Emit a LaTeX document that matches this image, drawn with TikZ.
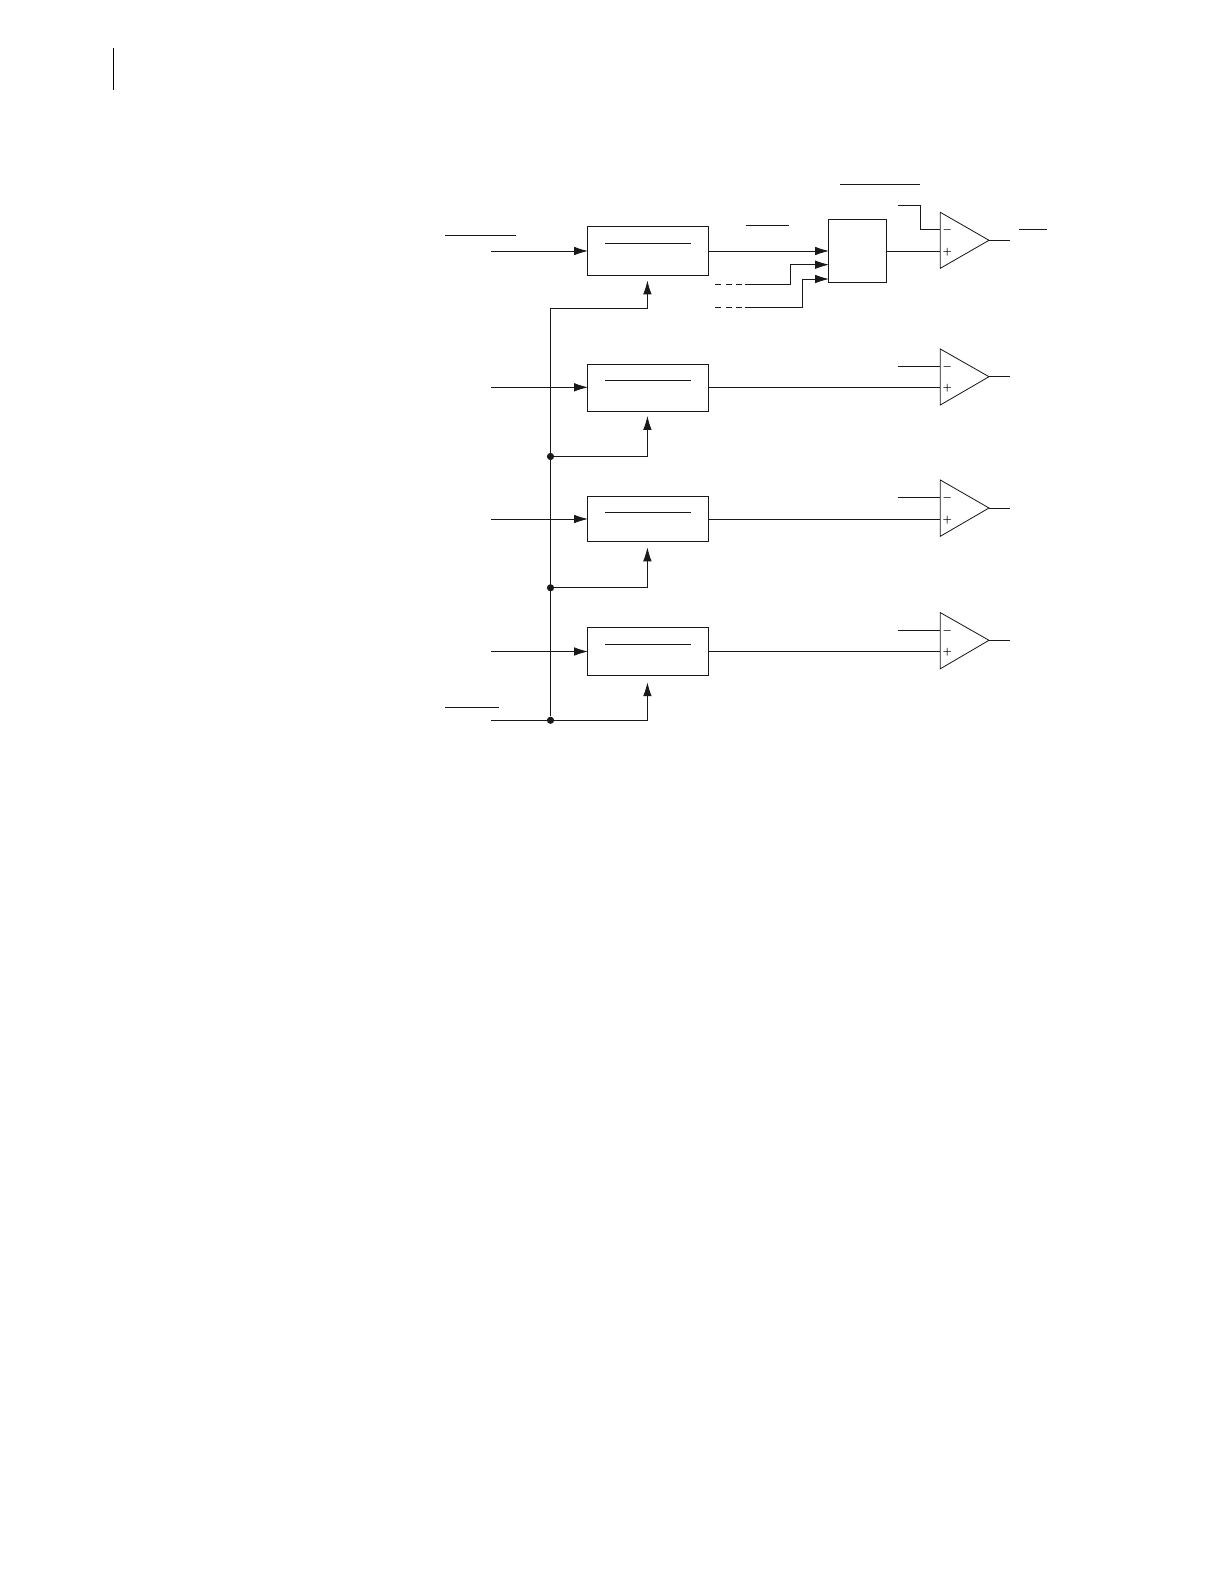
\documentclass[tikz,border=0pt]{standalone}
\usetikzlibrary{arrows.meta}
\tikzset{
  x=0.75pt,y=-0.75pt,
  wire/.style={line width=0.62pt,draw=black!90},
  flow/.style={wire,-{Latex[length=10.4pt,width=6.4pt]}},
  blockbox/.style={draw=black!90,line width=0.62pt,rectangle,inner sep=0pt,outer sep=0pt,minimum width=90.75pt},
  muxbox/.style={draw=black!90,line width=0.62pt,rectangle,inner sep=0pt,outer sep=0pt,minimum width=43.5pt,minimum height=47.25pt},
  amp/.style={wire,line join=miter},
  sign/.style={inner sep=0pt,font=\fontsize{7.5}{7.5}\selectfont\boldmath},
  joint/.style={circle,fill=black!90,inner sep=0pt,minimum size=5.4pt},
  rule/.style={line width=0.55pt,draw=black!90},
  dashpart/.style={wire,dash pattern=on 4.5pt off 3.6pt}
}
% #1 name, #2 top y, #3 tip y, #4 bottom y, #5 minus y, #6 plus y
\newcommand{\opampshape}[6]{
  \coordinate (#1t) at (940.3,#2);
  \coordinate (#1b) at (940.3,#4);
  \coordinate (#1o) at (989,#3);
  \coordinate (#1m) at (940.3,#5);
  \coordinate (#1p) at (940.3,#6);
  \coordinate (#1e) at (1010,#3);
  \draw[amp] (#1t) -- (#1o) -- (#1b) -- cycle;
  \draw[wire] (#1o) -- (#1e);
  \node[sign] (#1ms) at (947.3,#5+0.8) {$-$};
  \node[sign] (#1ps) at (947.3,#6+0.8) {$+$};
}
\begin{document}
\begin{tikzpicture}
\useasboundingbox[fill=white] (0,0) rectangle (1222,1584);

% margin rule
\coordinate (ma) at (113.7,48);
\coordinate (mb) at (113.7,90);
\draw[line width=0.75pt,black] (ma) -- (mb);

% blocks
\node[blockbox,minimum height=36.75pt] (b1) at (647.8,250.8) {};
\node[blockbox,minimum height=35.25pt] (b2) at (647.8,388) {};
\node[blockbox,minimum height=33.75pt] (b3) at (647.8,518.7) {};
\node[blockbox,minimum height=36pt] (b4) at (647.8,651.3) {};
\node[muxbox] (mux) at (857.3,250.8) {};

% lines inside blocks
\foreach \n/\y in {1/243.3,2/380,3/512,4/644.3}{
  \coordinate (il\n a) at (605,\y);
  \coordinate (il\n b) at (690.7,\y);
  \draw[rule] (il\n a) -- (il\n b);
}

% op amps
\opampshape{a}{212.3}{240.3}{268.3}{229.3}{251}
\opampshape{c}{349}{376.7}{405}{366.3}{387.3}
\opampshape{d}{480}{508}{536.3}{497}{519}
\opampshape{e}{612.6}{640.3}{668.8}{630}{651.5}

% inputs
\foreach \n/\y in {1/251,2/387.3,3/519,4/651.5}{
  \coordinate (in\n) at (491,\y);
  \coordinate (to\n) at (588,\y);
  \draw[flow] (in\n) -- (to\n);
}

% bus
\coordinate (bustop) at (550.5,308.3);
\coordinate (clk) at (491,720.3);
\node[joint] (j2) at (550.5,456.5) {};
\node[joint] (j3) at (550.5,587.8) {};
\node[joint] (j4) at (550.5,720.3) {};
\coordinate (up1) at (647.4,280.5);
\coordinate (up2) at (647.4,416);
\coordinate (up3) at (647.4,547.4);
\coordinate (up4) at (647.4,682.3);
\draw[wire] (bustop) -- (j4);
\draw[wire] (clk) -- (j4);
\draw[flow] (bustop) -| (up1);
\draw[flow] (j2) -| (up2);
\draw[flow] (j3) -| (up3);
\draw[flow] (j4) -| (up4);

% block 1 to mux
\coordinate (mi1) at (829,251);
\coordinate (mi2) at (829,264.7);
\coordinate (mi3) at (829,279);
\coordinate (b1o) at (708.3,251);
\draw[flow] (b1o) -- (mi1);
\coordinate (da) at (714.8,284.3);
\coordinate (db) at (745,284.3);
\coordinate (dc) at (714.8,307);
\coordinate (dd) at (745,307);
\coordinate (ka) at (790.3,264.7);
\coordinate (kb) at (802.3,279);
\draw[dashpart] (da) -- (db);
\draw[dashpart] (dc) -- (dd);
\draw[wire] (db) -| (ka);
\draw[flow] (ka) -- (mi2);
\draw[wire] (dd) -| (kb);
\draw[flow] (kb) -- (mi3);

% to amplifiers
\coordinate (mo) at (886.3,251);
\draw[wire] (mo) -- (ap);
\foreach \n/\a/\y in {2/c/387.3,3/d/519,4/e/651.5}{
  \coordinate (bo\n) at (708.3,\y);
  \draw[wire] (bo\n) -- (\a p);
}

% inverting inputs
\coordinate (ai) at (898,205.3);
\coordinate (aj) at (920.3,205.3);
\coordinate (ak) at (920.3,229.3);
\draw[wire] (ai) -- (aj) -- (ak) -- (am);
\foreach \a/\y in {c/366.3,d/497,e/630}{
  \coordinate (\a i) at (898,\y);
  \draw[wire] (\a i) -- (\a m);
}

% overbars
\foreach \n/\xa/\xb/\y in {1/445/516/235.3,2/445/499/707.3,3/746/789/225.3,4/840/920/184.3,5/1019/1047/229.3}{
  \coordinate (ob\n a) at (\xa,\y);
  \coordinate (ob\n b) at (\xb,\y);
  \draw[rule] (ob\n a) -- (ob\n b);
}
\end{tikzpicture}
\end{document}
